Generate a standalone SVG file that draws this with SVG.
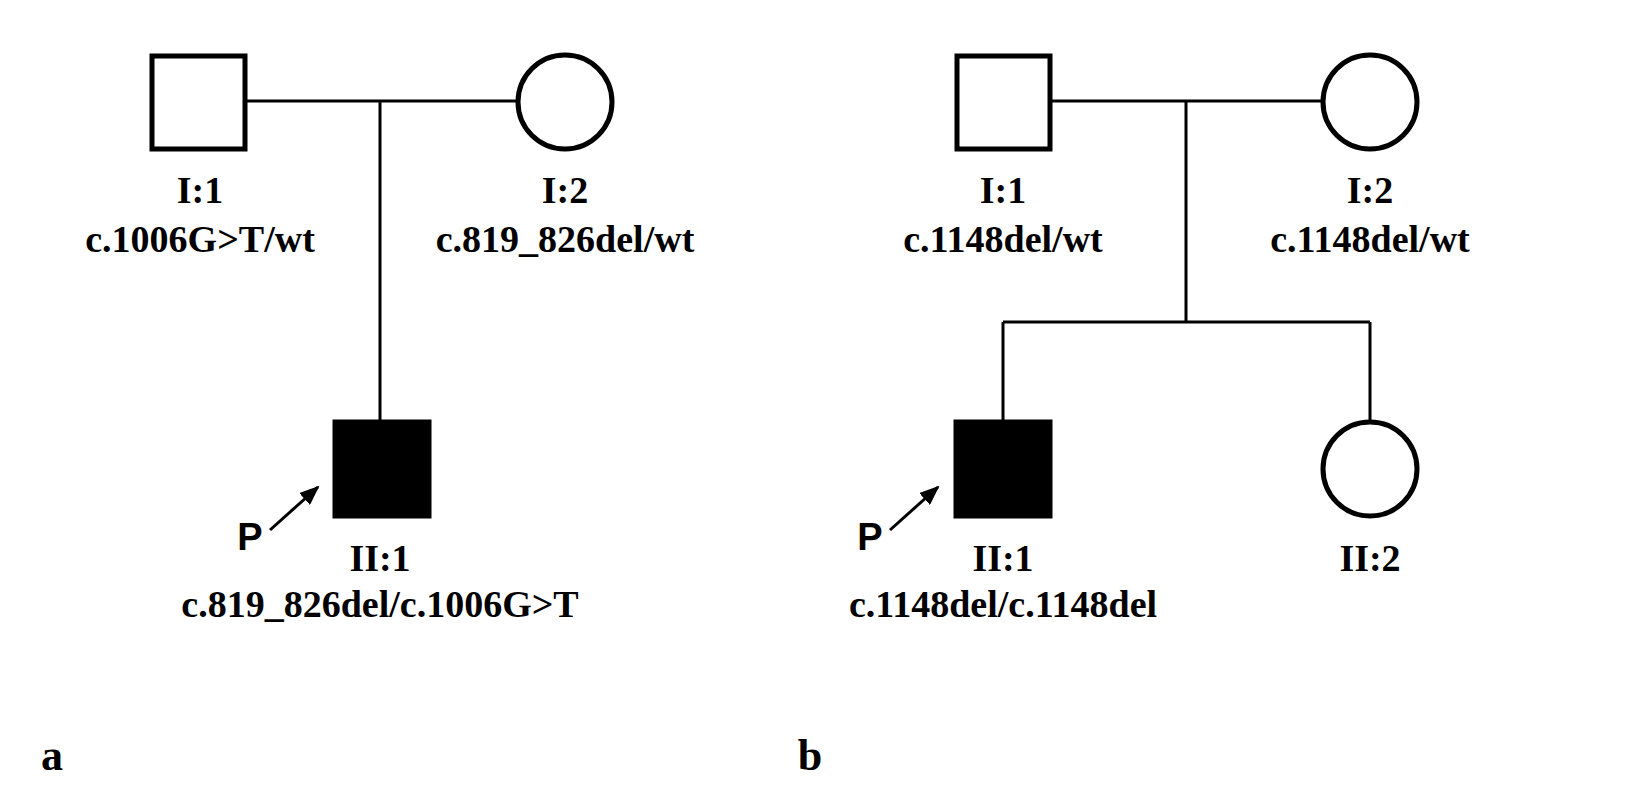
<svg xmlns="http://www.w3.org/2000/svg" width="1647" height="800" viewBox="0 0 1647 800">
<style>
.s{fill:none;stroke:#000;stroke-width:5}
.f{fill:#000;stroke:#000;stroke-width:5}
.l{stroke:#000;stroke-width:3;fill:none}
.t{font-family:"Liberation Serif",serif;font-weight:bold;font-size:38px;text-anchor:middle;fill:#000}
.p{font-family:"Liberation Sans",sans-serif;font-weight:bold;font-size:38px;text-anchor:middle;fill:#000}
</style>
<defs><marker id="ah" markerWidth="8" markerHeight="8" refX="6" refY="4" orient="auto" markerUnits="userSpaceOnUse" viewBox="0 0 8 8"><path d="M0,0L8,4L0,8z" fill="#000"/></marker>
<marker id="a2" markerWidth="20" markerHeight="16" refX="18" refY="8" orient="auto" markerUnits="userSpaceOnUse"><path d="M0,0L20,8L0,16z" fill="#000"/></marker></defs>
<g id="connectors">
<path class="l" d="M246,101H517M380,101V420"/>
<path class="l" d="M1050,101H1322M1186,101V322M1003,322H1370M1003,322V420M1370,322V421"/>
<path class="l" d="M270,530L318,487" marker-end="url(#a2)"/>
<path class="l" d="M890,530L938,487" marker-end="url(#a2)"/>
</g>
<g id="a_I1"><rect class="s" x="152" y="56" width="93" height="93"/><text class="t" x="200" y="203">I:1</text><text class="t" x="200" y="252">c.1006G&gt;T/wt</text></g>
<g id="a_I2"><circle class="s" cx="565" cy="102" r="47"/><text class="t" x="565" y="203">I:2</text><text class="t" x="565" y="252">c.819_826del/wt</text></g>
<g id="a_II1"><rect class="f" x="335" y="422" width="94" height="94"/><text class="t" x="380" y="571">II:1</text><text class="t" x="380" y="617">c.819_826del/c.1006G&gt;T</text><text class="p" x="250" y="550">P</text></g>
<g id="b_I1"><rect class="s" x="957" y="56" width="93" height="93"/><text class="t" x="1003" y="203">I:1</text><text class="t" x="1003" y="252">c.1148del/wt</text></g>
<g id="b_I2"><circle class="s" cx="1370" cy="102" r="47"/><text class="t" x="1370" y="203">I:2</text><text class="t" x="1370" y="252">c.1148del/wt</text></g>
<g id="b_II1"><rect class="f" x="956" y="422" width="94" height="94"/><text class="t" x="1003" y="571">II:1</text><text class="t" x="1003" y="617">c.1148del/c.1148del</text><text class="p" x="870" y="550">P</text></g>
<g id="b_II2"><circle class="s" cx="1370" cy="469" r="47"/><text class="t" x="1370" y="571">II:2</text></g>
<text class="t" x="52" y="770" style="font-size:44px">a</text>
<text class="t" x="810" y="770" style="font-size:44px">b</text>
</svg>
